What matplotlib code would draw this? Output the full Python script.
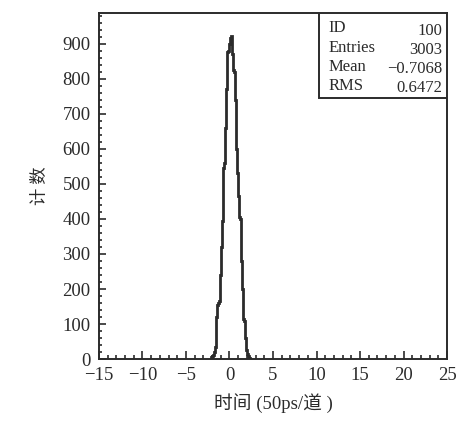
import numpy as np
import matplotlib.pyplot as plt
from matplotlib.ticker import MultipleLocator

# histogram (bin width 0.1, from -2.1 to 2.4)
bin_edges = np.arange(-21, 25) / 10
counts = [5, 8, 12, 20, 35, 75, 120, 155, 160, 165,
          240, 320, 395, 470, 545, 560, 660, 770, 875, 880,
          890, 900, 915, 922, 870, 825, 820, 740, 670, 600,
          530, 465, 405, 400, 280, 200, 125, 115, 110, 60,
          25, 15, 8, 3, 0]

stat_names = ["ID", "Entries", "Mean", "RMS"]
stat_values = ["100", "3003", "\u22120.7068", "0.6472"]

x_ticks = [-15, -10, -5, 0, 5, 10, 15, 20, 25]
y_ticks = [0, 100, 200, 300, 400, 500, 600, 700, 800, 900]

INK = "#2b2b2b"
SERIF = ["Liberation Serif", "DejaVu Serif"]
MIXED = ["Liberation Serif", "Noto Sans CJK SC"]
CJK = ["Noto Sans CJK SC", "DejaVu Sans"]

fig = plt.figure(figsize=(4.6, 4.28), dpi=100)
ax = fig.add_axes([0.215, 0.161, 0.757, 0.809])

ax.stairs(counts, bin_edges, color=INK, linewidth=2.0, baseline=0)

ax.set_xlim(-15, 25)
ax.set_ylim(0, 988)
ax.set_xticks(x_ticks)
ax.set_xticklabels([str(t).replace("-", "\u2212") for t in x_ticks],
                   family=SERIF, fontsize=13.5, color=INK)
ax.set_yticks(y_ticks)
ax.set_yticklabels([str(t) for t in y_ticks], family=SERIF, fontsize=13.5, color=INK)
ax.xaxis.set_minor_locator(MultipleLocator(1))
ax.yaxis.set_minor_locator(MultipleLocator(20))
ax.tick_params(which="both", direction="in", top=False, right=False,
               color=INK, width=1.2)
ax.tick_params(axis="x", which="major", length=6, pad=6)
ax.tick_params(axis="x", which="minor", length=3)
ax.tick_params(axis="y", which="major", length=5, pad=6)
ax.tick_params(axis="y", which="minor", length=2.5)
for s in ax.spines.values():
    s.set_color(INK)
    s.set_linewidth(1.4)

ax.set_xlabel("时间 (50ps/道 )", family=MIXED, fontsize=13.5, color=INK, labelpad=6)
ax.set_ylabel("计 数", family=CJK, fontsize=12.5, color=INK, labelpad=10)

# statistics box in the upper right corner
bx0, by0 = 0.632, 0.755
ax.add_patch(plt.Rectangle((bx0, by0), 1 - bx0, 1 - by0, transform=ax.transAxes,
                           fill=True, facecolor="white", edgecolor=INK,
                           linewidth=1.4, zorder=3))
for i, (name, val) in enumerate(zip(stat_names, stat_values)):
    yy = 0.978 - i * 0.055
    ax.text(bx0 + 0.026, yy, name, transform=ax.transAxes, family=SERIF,
            fontsize=12, color=INK, va="top", ha="left", zorder=4)
    ax.text(0.985, yy - 0.008, val, transform=ax.transAxes, family=SERIF,
            fontsize=12, color=INK, va="top", ha="right", zorder=4)

fig.savefig("out.png", dpi=100, facecolor="white")
